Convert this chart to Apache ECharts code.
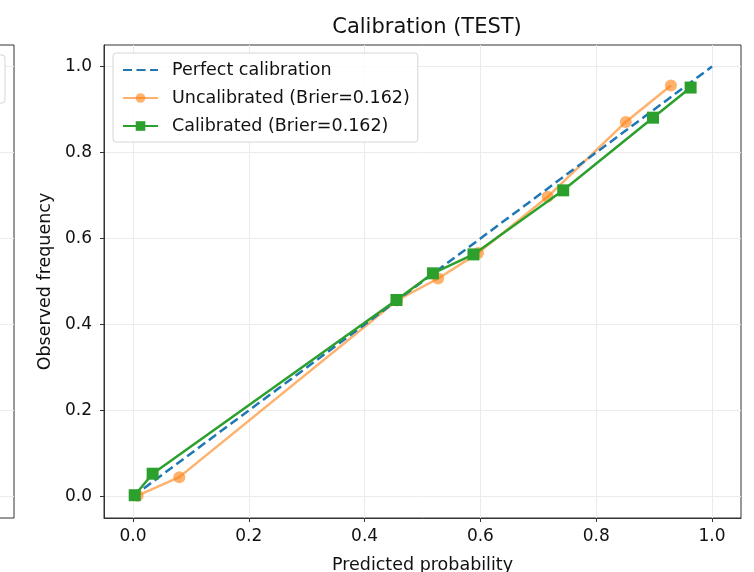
<!DOCTYPE html>
<html>
<head>
<meta charset="utf-8">
<script src="https://cdn.jsdelivr.net/npm/echarts@6/dist/echarts.min.js"></script>
<style>
  html, body { margin: 0; padding: 0; background: #fff; }
  #chart { width: 754px; height: 572px; }
</style>
</head>
<body>
<div id="chart"></div>
<script>
// values
const tickValues = [0, 0.2, 0.4, 0.6, 0.8, 1.0];
const perfectX = [0, 1];
const perfectY = [0, 1];
const uncalX = [0.008, 0.080, 0.456, 0.527, 0.596, 0.716, 0.851, 0.929];
const uncalY = [0.002, 0.045, 0.456, 0.507, 0.566, 0.697, 0.871, 0.956];
const calX = [0.003, 0.034, 0.455, 0.518, 0.588, 0.743, 0.898, 0.963];
const calY = [0.003, 0.053, 0.457, 0.519, 0.563, 0.712, 0.881, 0.951];
const perfectName = "Perfect calibration";
const uncalName = "Uncalibrated (Brier=0.162)";
const calName = "Calibrated (Brier=0.162)";

const pairs = (xs, ys) => xs.map((x, i) => [x, ys[i]]);

const font = "DejaVu Sans";
const gridColor = "#ebebeb";
const spineColor = "#333";
const textColor = "#111";

const chart = echarts.init(document.getElementById("chart"), null, { renderer: "canvas" });
chart.setOption({
  animation: false,
  backgroundColor: "#fff",
  textStyle: { fontFamily: font },
  title: {
    text: "Calibration (TEST)",
    left: 422,
    textAlign: "center",
    top: 12,
    textStyle: { fontFamily: font, fontSize: 21, fontWeight: "normal", color: textColor }
  },
  legend: {
    left: 113,
    top: 53,
    orient: "vertical",
    itemWidth: 35,
    itemHeight: 12,
    itemGap: 10,
    padding: [8, 8, 7, 9],
    backgroundColor: "rgba(255,255,255,0.85)",
    borderColor: "#d6d6d6",
    borderWidth: 1,
    borderRadius: 3,
    textStyle: { fontFamily: font, fontSize: 17.5, color: textColor, padding: [0, 0, 0, 9] },
    data: [
      { name: perfectName, itemStyle: { opacity: 0 } },
      uncalName,
      calName
    ]
  },
  graphic: [{
    type: "rect",
    shape: { x: -30, y: 55, width: 35, height: 48, r: 3 },
    style: { fill: "#fff", stroke: "#d6d6d6", lineWidth: 1 },
    z: 10
  }],
  grid: [
    {
      left: 104, right: 13, top: 45, bottom: 54,
      outerBoundsMode: "none", containLabel: false,
      show: true, borderColor: spineColor, borderWidth: 1
    },
    {
      left: -500, width: 514, top: 45, bottom: 54,
      outerBoundsMode: "none", containLabel: false,
      show: true, borderColor: spineColor, borderWidth: 1
    }
  ],
  xAxis: [
    {
      gridIndex: 0,
      type: "value",
      min: -0.05,
      max: 1.05,
      name: "Predicted probability",
      nameLocation: "middle",
      nameGap: 38,
      nameTextStyle: { fontFamily: font, fontSize: 17.5, color: textColor },
      axisLine: { show: true, onZero: false, lineStyle: { color: spineColor } },
      axisTick: { show: true, length: 4, customValues: tickValues, lineStyle: { color: spineColor } },
      axisLabel: {
        customValues: tickValues, margin: 10,
        fontFamily: font, fontSize: 17, color: textColor,
        formatter: v => v.toFixed(1)
      },
      splitLine: { show: true, lineStyle: { color: gridColor, width: 1 } }
    },
    {
      gridIndex: 1,
      type: "value",
      min: -0.05,
      max: 1.05,
      axisLine: { show: false },
      axisTick: { show: false },
      axisLabel: { show: false },
      splitLine: { show: false }
    }
  ],
  yAxis: [
    {
      gridIndex: 0,
      type: "value",
      min: -0.05,
      max: 1.05,
      name: "Observed frequency",
      nameLocation: "middle",
      nameGap: 46,
      nameTextStyle: { fontFamily: font, fontSize: 17.5, color: textColor },
      axisLine: { show: true, onZero: false, lineStyle: { color: spineColor } },
      axisTick: { show: true, length: 4, customValues: tickValues, lineStyle: { color: spineColor } },
      axisLabel: {
        customValues: tickValues, margin: 12,
        fontFamily: font, fontSize: 17, color: textColor,
        formatter: v => v.toFixed(1)
      },
      splitLine: { show: true, lineStyle: { color: gridColor, width: 1 } }
    },
    {
      gridIndex: 1,
      type: "value",
      min: -0.05,
      max: 1.05,
      axisLine: { show: false },
      axisTick: { show: false, customValues: tickValues },
      axisLabel: { show: false, customValues: tickValues },
      splitLine: { show: true, lineStyle: { color: gridColor, width: 1 } }
    }
  ],
  series: [
    {
      name: perfectName,
      type: "line",
      xAxisIndex: 0, yAxisIndex: 0,
      data: pairs(perfectX, perfectY),
      symbol: "none",
      lineStyle: { color: "#1f77b4", width: 2.5, type: [9, 4.5] },
      itemStyle: { color: "#1f77b4" },
      z: 3
    },
    {
      name: uncalName,
      type: "line",
      xAxisIndex: 0, yAxisIndex: 0,
      data: pairs(uncalX, uncalY),
      symbol: "circle",
      symbolSize: 12,
      lineStyle: { color: "#ff7f0e", width: 2.5, opacity: 0.6 },
      itemStyle: { color: "#ff7f0e", opacity: 0.6, borderWidth: 0 },
      z: 2
    },
    {
      name: calName,
      type: "line",
      xAxisIndex: 0, yAxisIndex: 0,
      data: pairs(calX, calY),
      symbol: "rect",
      symbolSize: 12,
      lineStyle: { color: "#2ca02c", width: 2.5 },
      itemStyle: { color: "#2ca02c", borderWidth: 0 },
      z: 4
    }
  ]
});
</script>
</body>
</html>
